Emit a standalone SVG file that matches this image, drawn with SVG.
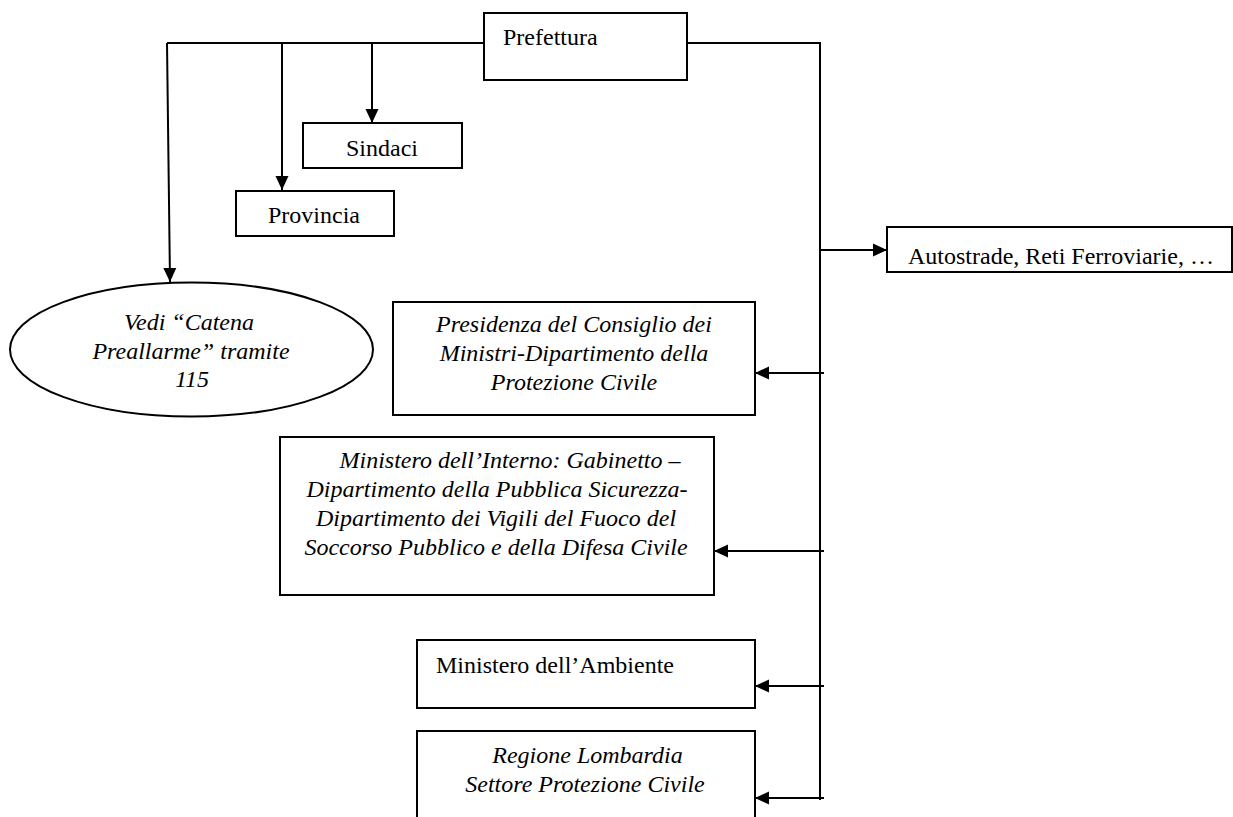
<svg xmlns="http://www.w3.org/2000/svg" width="1233" height="817" viewBox="0 0 1233 817">
<style>
.box{fill:#fff;stroke:#000;stroke-width:2}
.t{font-family:"Liberation Serif","Times New Roman",serif;font-size:24px;fill:#000}
.i{font-style:italic}
.c{text-anchor:middle}
.ln{fill:none;stroke:#000;stroke-width:2}
</style>
<defs>
<marker id="ah" markerUnits="userSpaceOnUse" markerWidth="14" markerHeight="14" refX="14" refY="7" orient="auto">
<path d="M0,0.5 L14,7 L0,13.5 Z" fill="#000"/>
</marker>
</defs>
<rect width="1233" height="817" fill="#fff"/>
<g id="connectors">
<path class="ln" d="M484,43 H167"/>
<path class="ln" d="M167,43 L170,282" marker-end="url(#ah)"/>
<path class="ln" d="M282,43 V190" marker-end="url(#ah)"/>
<path class="ln" d="M372,43 V123" marker-end="url(#ah)"/>
<path class="ln" d="M687,43 H820 V800"/>
<path class="ln" d="M820,250 H887" marker-end="url(#ah)"/>
<path class="ln" d="M824,373 H755" marker-end="url(#ah)"/>
<path class="ln" d="M824,551 H714" marker-end="url(#ah)"/>
<path class="ln" d="M824,686 H755" marker-end="url(#ah)"/>
<path class="ln" d="M824,798 H755" marker-end="url(#ah)"/>
</g>
<g id="prefettura">
<rect class="box" x="484" y="13" width="203" height="67"/>
<text class="t" x="503" y="45">Prefettura</text>
</g>
<g id="sindaci">
<rect class="box" x="303" y="123" width="159" height="45"/>
<text class="t c" x="382" y="156">Sindaci</text>
</g>
<g id="provincia">
<rect class="box" x="236" y="191" width="158" height="45"/>
<text class="t c" x="314" y="223">Provincia</text>
</g>
<g id="autostrade">
<rect class="box" x="887" y="227" width="345" height="45"/>
<text class="t" x="908" y="264">Autostrade, Reti Ferroviarie, …</text>
</g>
<g id="catena">
<ellipse class="box" cx="191.5" cy="349.5" rx="181.5" ry="67"/>
<text class="t i c" x="189" y="330">Vedi “Catena</text>
<text class="t i c" x="191" y="358.5">Preallarme” tramite</text>
<text class="t i c" x="192" y="387">115</text>
</g>
<g id="presidenza">
<rect class="box" x="393" y="302" width="362" height="113"/>
<text class="t i c" x="574" y="332">Presidenza del Consiglio dei</text>
<text class="t i c" x="574" y="361">Ministri-Dipartimento della</text>
<text class="t i c" x="574" y="390">Protezione Civile</text>
</g>
<g id="interno">
<rect class="box" x="280" y="437" width="434" height="158"/>
<text class="t i c" x="510" y="468">Ministero dell’Interno: Gabinetto –</text>
<text class="t i c" x="497" y="497">Dipartimento della Pubblica Sicurezza-</text>
<text class="t i c" x="496" y="526">Dipartimento dei Vigili del Fuoco del</text>
<text class="t i c" x="496" y="555">Soccorso Pubblico e della Difesa Civile</text>
</g>
<g id="ambiente">
<rect class="box" x="417" y="640" width="338" height="68"/>
<text class="t" x="436" y="673">Ministero dell’Ambiente</text>
</g>
<g id="regione">
<rect class="box" x="417" y="731" width="338" height="100"/>
<text class="t i c" x="587.5" y="763">Regione Lombardia</text>
<text class="t i c" x="585" y="792">Settore Protezione Civile</text>
</g>
</svg>
